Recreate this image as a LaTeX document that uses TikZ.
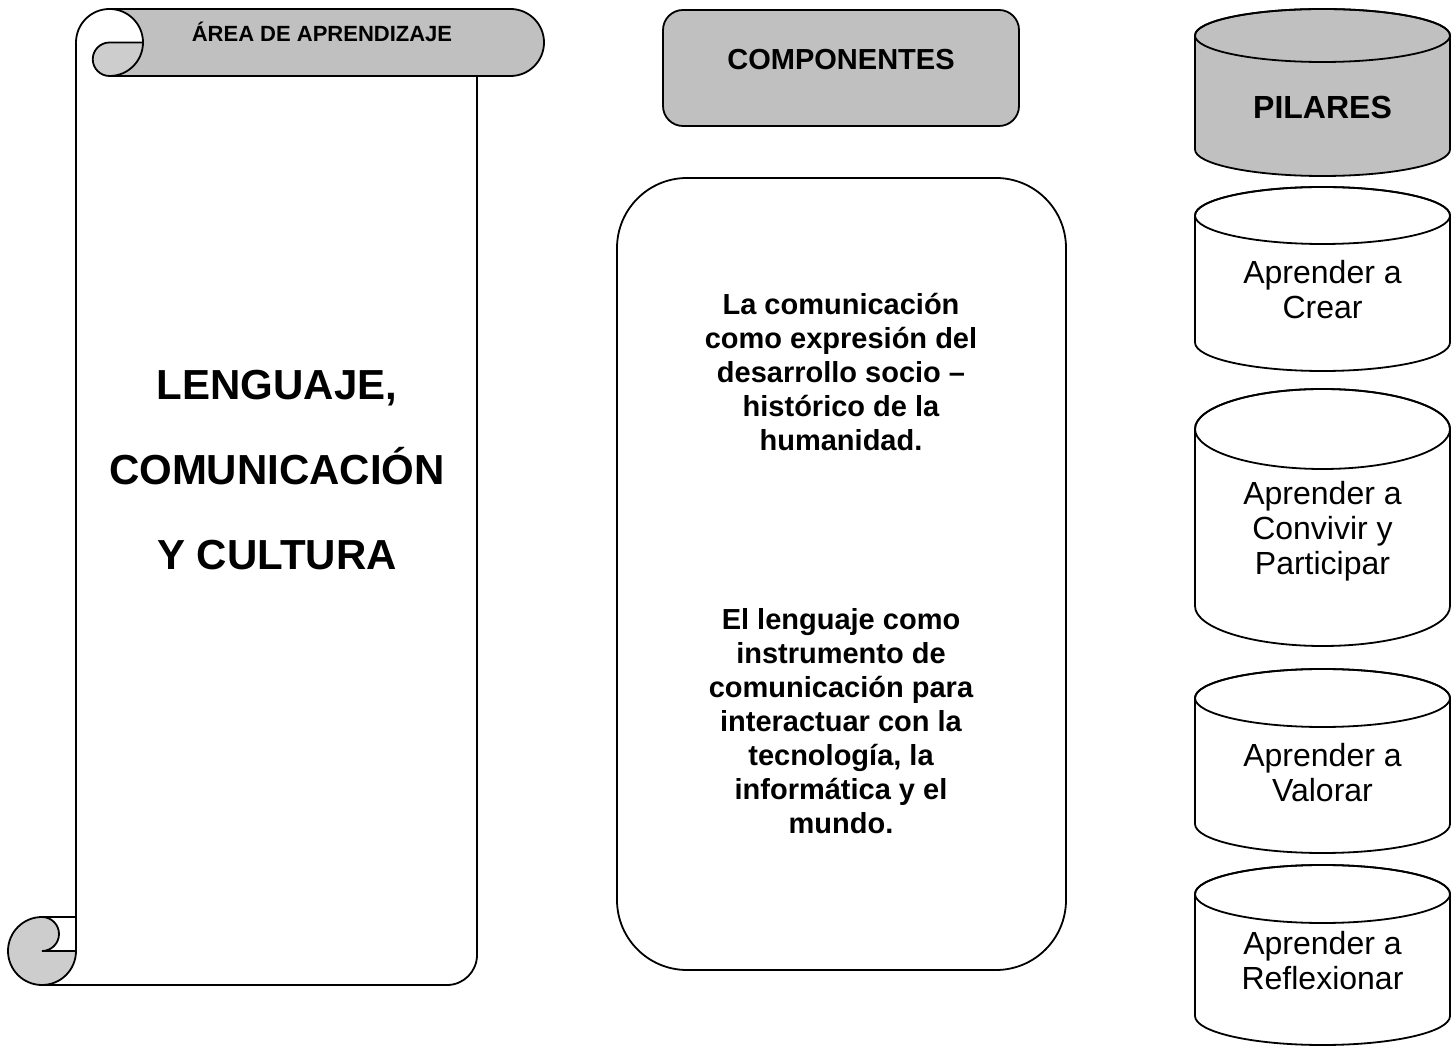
\documentclass[tikz,border=0pt]{standalone}
\usepackage{fontspec}
\setmainfont{Liberation Sans}
\definecolor{bandgray}{HTML}{C0C0C0}
\definecolor{curlgray}{HTML}{CDCDCD}

\begin{document}
\begin{tikzpicture}[x=0.5pt, y=-0.5pt,
            line width=0.9pt,
            txt/.style = {align=center,inner sep=0pt},
            hdrbox/.style = {draw,fill=bandgray,rounded corners=10pt},
            compbox/.style = {draw,rounded corners=35pt},
            comp/.style = {txt,font=\fontsize{14.5}{17}\selectfont\bfseries},
            pilar/.style = {txt,font=\fontsize{16}{17.5}\selectfont}]
            \useasboundingbox (0,0) rectangle (1451,1047);
            \draw (76,42.5) -- (76,951);
            \draw (42,985) -- (447,985) arc[start angle=270,end angle=360,radius=15pt] -- (477,76);
            \fill[bandgray] (109.5,9) -- (510.5,9) arc[start angle=90,end angle=-90,radius=16.75pt] -- (109.5,76) -- cycle;
            \draw (109.5,9) -- (510.5,9) arc[start angle=90,end angle=-90,radius=16.75pt] -- (109.5,76);
            \fill[white] (76,42.5) arc[start angle=180,end angle=0,radius=16.75pt] -- cycle;
            \draw[fill=curlgray] (109.5,42.5) -- (143,42.5) arc[start angle=0,end angle=-90,radius=16.75pt]
                arc[start angle=270,end angle=90,radius=8.375pt] -- cycle;
            \draw (76,42.5) arc[start angle=180,end angle=0,radius=16.75pt];
            \draw[fill=curlgray] (42,951) -- (76,951) arc[start angle=0,end angle=-270,radius=17pt]
                arc[start angle=90,end angle=-90,radius=8.5pt] -- cycle;
            \draw (42,917) -- (76,917);
            \node[txt, font=\fontsize{11}{13}\selectfont\bfseries] (areahdr) at (322,32) {ÁREA DE APRENDIZAJE};
            \node[txt, font=\fontsize{21}{42.5}\selectfont\bfseries] (area) at (277,470)
                {LENGUAJE,\\COMUNICACIÓN\\Y CULTURA};
            \node[hdrbox, minimum width=178pt, minimum height=58pt] (comphdr) at (841,68) {};
            \node[comp] (comptxt) at (841,60) {COMPONENTES};
            \node[compbox, minimum width=224.5pt, minimum height=396pt] (comps) at (841.5,574) {};
            \node[comp] (comp1) at (841,372)
                {La comunicación\\como expresión del\\desarrollo socio --\\histórico de la\\humanidad.};
            \node[comp] (comp2) at (841,721)
                {El lenguaje como\\instrumento de\\comunicación para\\interactuar con la\\tecnología, la\\informática y el\\mundo.};
            \draw[fill=bandgray] (1195,35.5) -- (1195,149.5) arc[start angle=180,end angle=360,x radius=63.75pt,y radius=13.25pt]
                -- (1450,35.5) arc[start angle=0,end angle=180,x radius=63.75pt,y radius=13.25pt] -- cycle;
            \draw (1322.5,35.5) ellipse[x radius=63.75pt,y radius=13.25pt];
            \node[pilar, font=\fontsize{16}{17.5}\selectfont\bfseries] (pilares) at (1322.5,107) {PILARES};
            \foreach \n/\yt/\yb/\ry/\ty/\lbl in {crear/215.5/342.5/14.25/290/{Aprender a\\Crear},
                    convivir/429/606/20/531/{Aprender a\\Convivir y\\Participar},
                    valorar/698/824/14.5/773/{Aprender a\\Valorar},
                    reflexionar/894/1016/14.5/961/{Aprender a\\Reflexionar}} {
                \draw (1195,\yt) -- (1195,\yb) arc[start angle=180,end angle=360,x radius=63.75pt,y radius=\ry pt]
                    -- (1450,\yt) arc[start angle=0,end angle=180,x radius=63.75pt,y radius=\ry pt];
                \draw (1322.5,\yt) ellipse[x radius=63.75pt,y radius=\ry pt];
                \node[pilar] (\n) at (1322.5,\ty) {\lbl};
            }
\end{tikzpicture}
\end{document}
